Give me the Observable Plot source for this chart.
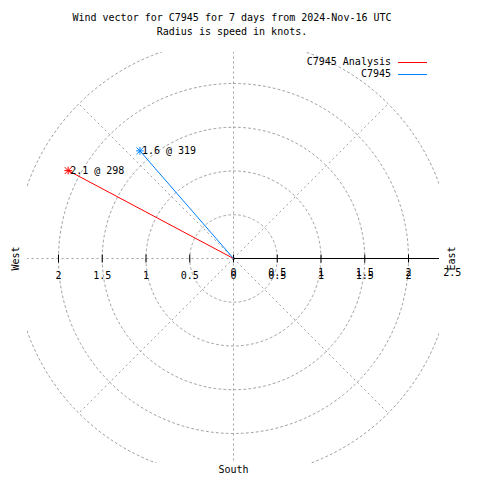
<!DOCTYPE html>
<html>
<head>
<meta charset="utf-8">
<script src="https://cdn.jsdelivr.net/npm/d3@7"></script>
<script src="https://cdn.jsdelivr.net/npm/@observablehq/plot@0.6"></script>
<style>
  body { margin: 0; background: #fff; }
  #wrap { position: relative; width: 480px; height: 480px; font-family: "DejaVu Sans Mono", monospace; font-size: 10px; color: #000; }
  #title { width: 464px; height: 40px; box-sizing: border-box; padding-top: 11px; text-align: center; line-height: 14px; white-space: pre; }
  #legend { position: absolute; top: 56px; right: 53px; line-height: 12px; }
  .row { display: flex; justify-content: flex-end; align-items: center; height: 12px; }
  .sw { width: 29px; height: 1px; margin-left: 7px; }
  #chart svg { display: block; }
</style>
</head>
<body>
<div id="wrap">
  <div id="title"></div>
  <div id="legend"></div>
  <div id="chart"></div>
</div>
<script>
// ---- data ----
const titleLines = ["Wind vector for C7945 for 7 days from 2024-Nov-16 UTC", "Radius is speed in knots."];
const series = ["C7945 Analysis", "C7945"];
const speeds = [2.14, 1.63];       // knots
const directions = [298, 319];     // degrees (compass bearing)
const colors = ["#ff0000", "#0080ff"];
const gridRadii = [0.5, 1, 1.5, 2, 2.5];
const spokeBearings = [0, 45, 135, 180, 225, 270, 315];
const axisTicks = [-2, -1.5, -1, -0.5, 0, 0.5, 1, 1.5, 2];
const radialTicks = [0, 0.5, 1, 1.5, 2, 2.5];
const compassNames = ["West", "East", "South"];
const compassBearings = [270, 90, 180];

// ---- title & legend ----
document.getElementById("title").textContent = titleLines.join("\n");
const legend = document.getElementById("legend");
series.forEach((s, i) => {
  const row = document.createElement("div");
  row.className = "row";
  const t = document.createElement("span");
  t.textContent = s;
  const sw = document.createElement("span");
  sw.className = "sw";
  sw.style.background = colors[i];
  row.append(t, sw);
  legend.append(row);
});

// ---- derived ----
const rad = d => d * Math.PI / 180;
const vectors = series.map((name, i) => ({
  name,
  x: speeds[i] * Math.sin(rad(directions[i])),
  y: speeds[i] * Math.cos(rad(directions[i])),
  color: colors[i],
  label: `${speeds[i].toFixed(1)} @ ${directions[i]}`
}));
const circlePts = gridRadii.flatMap(r => d3.range(0, 361, 1).map(a => ({ r, x: r * Math.sin(rad(a)), y: r * Math.cos(rad(a)) })));
const spokes = spokeBearings.map(b => ({ x2: 2.5 * Math.sin(rad(b)), y2: 2.5 * Math.cos(rad(b)) }));
const tickHalf = 4 / 87.5;
const compass = compassNames.map((n, i) => ({ n, b: compassBearings[i] }));

const gridStyle = { stroke: "#a0a0a0", strokeWidth: 1, strokeDasharray: "2,3", clip: true };

const plot = Plot.plot({
  width: 480,
  height: 440,
  marginLeft: 27,
  marginRight: 41,
  marginTop: 12,
  marginBottom: 17,
  x: { domain: [-1, 1], range: [233 - 87.5, 233 + 87.5], axis: null },
  y: { domain: [-1, 1], range: [218 + 87.5, 218 - 87.5], axis: null },
  style: { fontFamily: "DejaVu Sans Mono, monospace", fontSize: "10px", color: "#000", background: "#fff", overflow: "visible" },
  marks: [
    Plot.line(circlePts, { x: "x", y: "y", z: "r", ...gridStyle }),
    Plot.link(spokes, { x1: () => 0, y1: () => 0, x2: "x2", y2: "y2", ...gridStyle }),
    Plot.link([2.5], { x1: () => 0, y1: () => 0, x2: d => d, y2: () => 0, stroke: "#000", clip: true }),
    Plot.link(axisTicks, { x1: d => d, x2: d => d, y1: () => -tickHalf, y2: () => tickHalf, stroke: "#000" }),
    Plot.text(axisTicks, { x: d => d, y: () => 0, text: d => String(Math.abs(d)), dy: 17 }),
    Plot.text(radialTicks, { x: d => d, y: () => 0, text: d => String(d), dy: 14 }),
    Plot.text(compass.filter(c => c.n !== "South"), { x: c => 2.49 * Math.sin(rad(c.b)), y: c => 2.49 * Math.cos(rad(c.b)), text: "n", rotate: -90 }),
    Plot.text(compass.filter(c => c.n === "South"), { x: c => 2.42 * Math.sin(rad(c.b)), y: c => 2.42 * Math.cos(rad(c.b)), text: "n" }),
    Plot.link(vectors, { x1: () => 0, y1: () => 0, x2: "x", y2: "y", stroke: "color" }),
    Plot.dot(vectors, { x: "x", y: "y", symbol: "plus", r: 2.6, stroke: "color", strokeWidth: 1 }),
    Plot.dot(vectors, { x: "x", y: "y", symbol: "times", r: 3.2, stroke: "color", strokeWidth: 1 }),
    Plot.text(vectors, { x: "x", y: "y", text: "label", textAnchor: "start", dx: 2, fill: "#000" })
  ]
});
document.getElementById("chart").append(plot);
</script>
</body>
</html>
